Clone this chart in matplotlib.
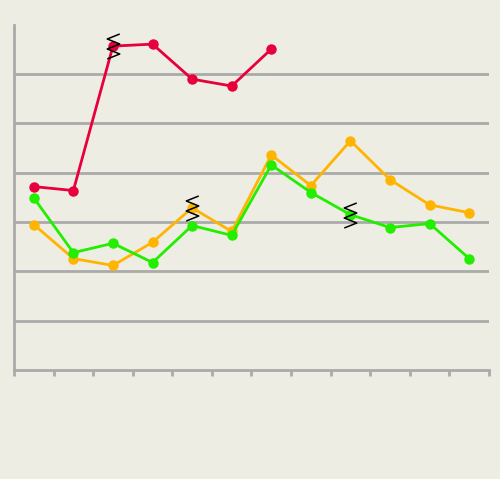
import matplotlib
matplotlib.use("Agg")
import matplotlib.pyplot as plt
import numpy as np
from matplotlib.path import Path

# values (grid step = 10)
red_vals = [37.2, 36.4, 65.7, 66.1, 59.0, 57.6, 65.1]
orange_vals = [29.5, 22.6, 21.2, 25.9, 32.9, 28.1, 43.6, 37.4, 46.5, 38.6, 33.5, 31.9]
green_vals = [34.9, 23.8, 25.7, 21.8, 29.3, 27.3, 41.6, 36.0, 31.5, 28.9, 29.7, 22.6]
n_cats = 12

# zigzag "break" marks: (series values, index)
breaks = [(red_vals, 2), (orange_vals, 4), (green_vals, 8)]

bg = "#eeede4"
grid_col = "#aaaaaa"

fig = plt.figure(figsize=(5.0, 4.79), dpi=100, facecolor=bg)
ax = fig.add_axes([0.028, 0.2276, 0.95, 0.7204])
ax.set_facecolor(bg)

for g in range(10, 70, 10):
    ax.axhline(g, color=grid_col, lw=2, zorder=1)

def draw(vals, col):
    x = np.arange(len(vals))
    ax.plot(x, vals, color=col, lw=2, marker="o", ms=6.5, mec=col, mfc=col, zorder=3)

draw(red_vals, "#e8003c")
draw(orange_vals, "#ffb400")
draw(green_vals, "#22ee00")

zig = Path([(0.5, 1.0), (-0.5, 0.6), (0.5, 0.2), (-0.5, -0.2), (0.5, -0.6), (-0.5, -1.0)],
           [Path.MOVETO] + [Path.LINETO] * 5)
for vals, i in breaks:
    ax.plot([i], [vals[i]], marker=zig, ms=18, mfc="none", mec="black", mew=1.1,
            ls="none", zorder=4)

ax.set_xlim(-0.5, n_cats - 0.5)
ax.set_ylim(0, 70)
ax.set_xticks(np.arange(-0.5, n_cats, 1.0))
ax.set_xticklabels([])
ax.set_yticks([])
ax.tick_params(axis="x", length=4, width=2, color=grid_col)
for s in ["top", "right"]:
    ax.spines[s].set_visible(False)
for s in ["left", "bottom"]:
    ax.spines[s].set_color(grid_col)
    ax.spines[s].set_linewidth(2)

fig.savefig("out.png", dpi=100, facecolor=bg)
